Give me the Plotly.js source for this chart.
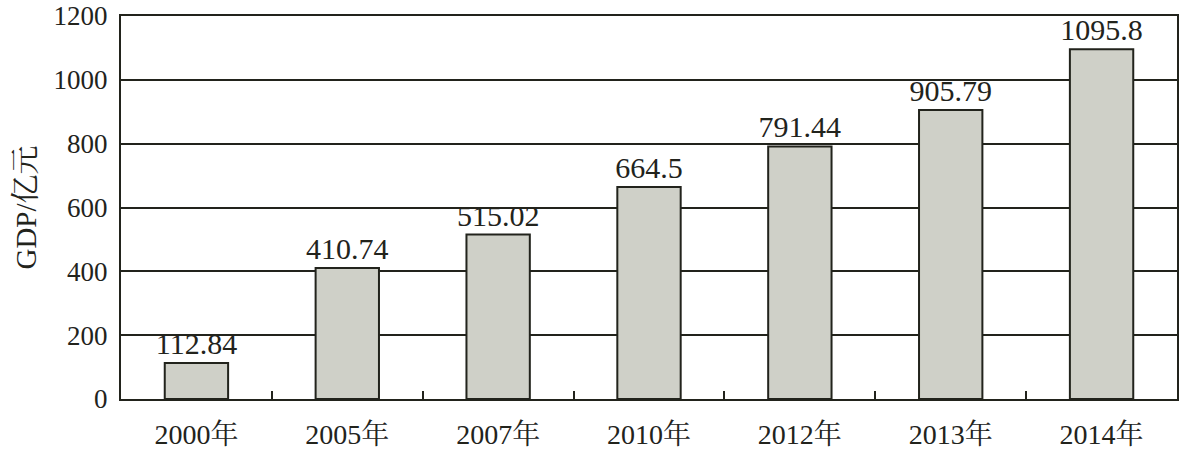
<!DOCTYPE html>
<html>
<head>
<meta charset="utf-8">
<script src="https://cdn.plot.ly/plotly-3.0.1.min.js"></script>
<style>html,body{margin:0;padding:0;background:#fff;}#chart{width:1181px;height:451px;}</style>
</head>
<body>
<div id="chart"></div>
<script>
const categories = ["2000年", "2005年", "2007年", "2010年", "2012年", "2013年", "2014年"];
const gdpValues = [112.84, 410.74, 515.02, 664.5, 791.44, 905.79, 1095.8];
const valueLabels = ["112.84", "410.74", "515.02", "664.5", "791.44", "905.79", "1095.8"];
const yTicks = [0, 200, 400, 600, 800, 1000, 1200];

const fontFam = '"Liberation Serif", "Times New Roman", "Noto Serif CJK SC", "Noto Sans CJK SC", serif';
const ink = '#22231c';

const trace = {
  type: 'bar',
  x: categories,
  y: gdpValues,
  text: valueLabels,
  texttemplate: '%{text}',
  textposition: 'outside',
  constraintext: 'none',
  cliponaxis: false,
  textfont: {family: fontFam, size: 30, color: ink},
  marker: {color: '#cfd0c8', line: {color: ink, width: 2}},
  width: 0.42,
  hoverinfo: 'none'
};

const layout = {
  width: 1181, height: 451,
  margin: {l: 121, r: 4, t: 16, b: 52},
  paper_bgcolor: '#fff', plot_bgcolor: '#fff',
  showlegend: false,
  font: {family: fontFam, color: ink},
  xaxis: {
    type: 'category',
    showline: true, linecolor: ink, linewidth: 2, mirror: true,
    ticks: 'inside', tickson: 'boundaries', ticklen: 8, tickwidth: 2, tickcolor: ink,
    tickfont: {family: fontFam, size: 28, color: ink},
    ticklabelstandoff: 9,
    showgrid: false
  },
  yaxis: {
    range: [0, 1200],
    tickvals: yTicks,
    ticktext: yTicks.map(String),
    showline: true, linecolor: ink, linewidth: 2, mirror: true,
    showgrid: true, gridcolor: ink, gridwidth: 2,
    ticks: '', zeroline: false,
    tickfont: {family: fontFam, size: 27, color: ink},
    ticklabelstandoff: 6,
    ticklabeloverflow: 'allow',
    title: {text: 'GDP/亿元', font: {family: fontFam, size: 29, color: ink}, standoff: 8},
    automargin: false
  }
};

Plotly.newPlot('chart', [trace], layout, {displayModeBar: false, staticPlot: true});
</script>
</body>
</html>
